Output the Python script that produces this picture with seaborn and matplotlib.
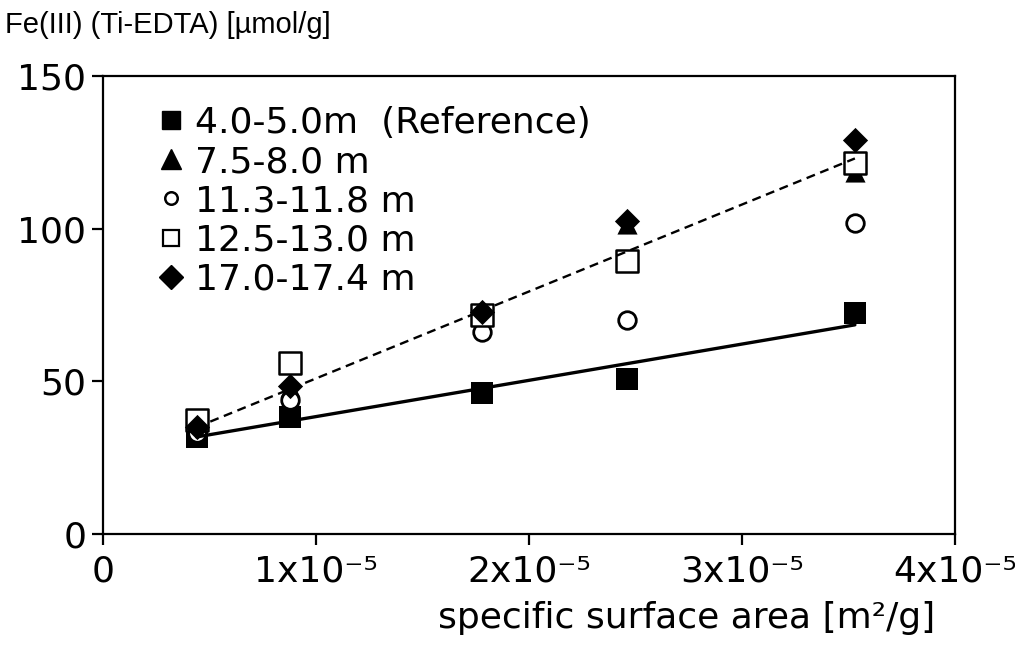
import matplotlib
matplotlib.use("Agg")
import matplotlib.pyplot as plt
from matplotlib.lines import Line2D
import seaborn as sns
import numpy as np

# ---- data ----
ssa = [0.44e-5, 0.88e-5, 1.78e-5, 2.46e-5, 3.53e-5]
s_ref = [31.8, 38.3, 46.2, 50.8, 72.4]      # 4.0-5.0m (Reference)
s_75 = [34.0, 48.0, 73.0, 101.5, 118.5]     # 7.5-8.0 m
s_113 = [33.0, 43.9, 66.2, 70.1, 101.9]     # 11.3-11.8 m
s_125 = [37.3, 56.0, 71.7, 89.4, 121.5]     # 12.5-13.0 m
s_170 = [35.0, 48.5, 72.7, 102.5, 129.0]    # 17.0-17.4 m
labels = ["4.0-5.0m  (Reference)", "7.5-8.0 m", "11.3-11.8 m",
          "12.5-13.0 m", "17.0-17.4 m"]
fit_x = [0.44e-5, 3.53e-5]
fit_ref = [31.8, 68.5]
fit_deep = [35.0, 123.0]
xticks = [0, 1e-5, 2e-5, 3e-5, 4e-5]
xtick_labels = ["0", "1x10\u207b\u2075", "2x10\u207b\u2075", "3x10\u207b\u2075", "4x10\u207b\u2075"]
yticks = [0, 50, 100, 150]

sns.set_style("ticks")
plt.rcParams["font.family"] = ["DejaVu Sans"]
plt.rcParams["text.color"] = "black"
plt.rcParams["axes.labelcolor"] = "black"
plt.rcParams["xtick.color"] = "black"
plt.rcParams["ytick.color"] = "black"

fig = plt.figure(figsize=(10.15, 6.52), dpi=100)
ax = fig.add_axes([103/1015, 1-534/652, (955-103)/1015, (534-76)/652])

series = [s_ref, s_75, s_113, s_125, s_170]
styles = [
    dict(marker="s", facecolor="black", s=240, linewidth=0, zorder=3),
    dict(marker="^", facecolor="black", s=210, linewidth=0, zorder=4),
    dict(marker="o", facecolor="white", s=160, linewidth=2.0, zorder=5),
    dict(marker="s", facecolor="white", s=230, linewidth=1.8, zorder=6),
    dict(marker="D", facecolor="black", s=165, linewidth=0, zorder=7),
]
for ys, st in zip(series, styles):
    sns.scatterplot(x=ssa, y=ys, ax=ax, edgecolor="black", legend=False, **st)

sns.lineplot(x=fit_x, y=fit_ref, ax=ax, color="black", linewidth=2.4,
             legend=False, zorder=10)
sns.lineplot(x=fit_x, y=fit_deep, ax=ax, color="black", linewidth=1.7,
             dashes=False, legend=False, zorder=10, linestyle=(0, (3.8, 2.4)))

ax.set_xlim(0, 4e-5)
ax.set_ylim(0, 150)
ax.set_xticks(xticks)
ax.set_xticklabels(xtick_labels)
ax.set_yticks(yticks)
for sp in ax.spines.values():
    sp.set_linewidth(1.6)
    sp.set_color("black")
ax.tick_params(axis="both", direction="out", length=8, width=1.6,
               labelsize=26, colors="black")
ax.tick_params(axis="x", pad=7)
ax.tick_params(axis="y", pad=4)
ax.set_xlabel("")
ax.set_ylabel("")

handles = [
    Line2D([], [], linestyle="", marker="s", markersize=13, markerfacecolor="black",
           markeredgecolor="black"),
    Line2D([], [], linestyle="", marker="^", markersize=15, markerfacecolor="black",
           markeredgecolor="black"),
    Line2D([], [], linestyle="", marker="o", markersize=9, markerfacecolor="white",
           markeredgecolor="black", markeredgewidth=1.8),
    Line2D([], [], linestyle="", marker="s", markersize=12, markerfacecolor="white",
           markeredgecolor="black", markeredgewidth=1.6),
    Line2D([], [], linestyle="", marker="D", markersize=12, markerfacecolor="black",
           markeredgecolor="black"),
]
leg = ax.legend(handles, labels, loc="upper left",
                bbox_to_anchor=(153/1015, 1-106/652), bbox_transform=fig.transFigure,
                frameon=False, fontsize=26, handlelength=1.0, handletextpad=0.17,
                labelspacing=0.14, borderpad=0, borderaxespad=0)
for t in leg.get_texts():
    t.set_color("black")

fig.text(5/1015, 1-33/652, "Fe(III) (Ti-EDTA) [\u00b5mol/g]",
         family=["Liberation Sans", "DejaVu Sans"], fontsize=21,
         ha="left", va="baseline", color="black")
fig.text(935/1015, 1-628/652, "specific surface area [m\u00b2/g]",
         fontsize=26, ha="right", va="baseline", color="black")

fig.savefig("out.png", dpi=100, facecolor="white")
